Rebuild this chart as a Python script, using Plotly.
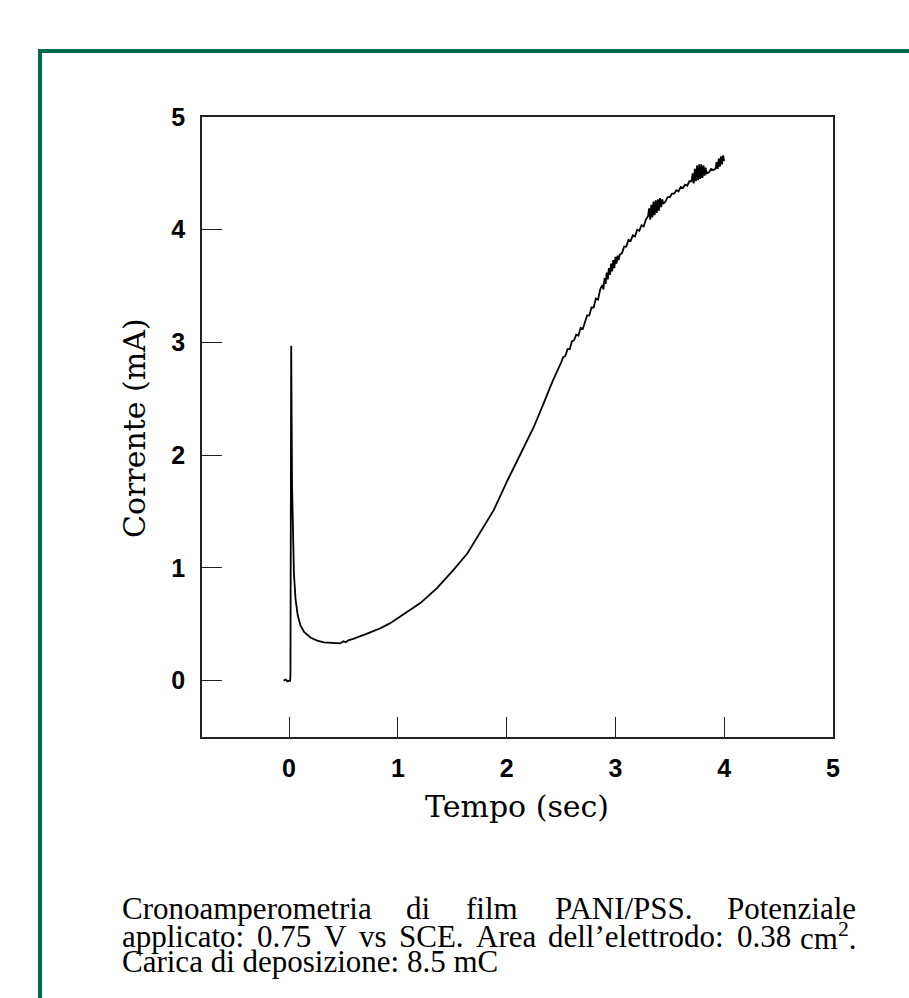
import plotly.graph_objects as go

# ---- data ----
tempo_sec = [
    -0.05, -0.03, -0.015, 0.0, 0.01, 0.013, 0.02, 0.024, 0.028, 0.035, 0.045,
    0.06, 0.08, 0.105, 0.14, 0.2, 0.26, 0.32, 0.38, 0.44, 0.47, 0.5, 0.52, 0.55,
    0.59, 0.7, 0.84, 0.93, 1.02, 1.1, 1.21, 1.36, 1.51, 1.64, 1.76, 1.88,
    2.01, 2.13, 2.25, 2.34, 2.42, 2.50,
    2.52, 2.54, 2.56, 2.58, 2.60, 2.62, 2.64, 2.66, 2.68, 2.70, 2.72, 2.74,
    2.76, 2.78, 2.80, 2.82, 2.84, 2.86,
    2.88, 2.89, 2.90, 2.91, 2.92, 2.93, 2.94, 2.95, 2.96, 2.97, 2.98, 2.99,
    3.00, 3.01, 3.02, 3.03, 3.04,
    3.06, 3.08, 3.10, 3.12, 3.14, 3.16, 3.18, 3.20, 3.22, 3.24, 3.26, 3.28,
    3.30, 3.31, 3.32, 3.33, 3.34, 3.35, 3.36, 3.37, 3.38, 3.39, 3.40, 3.41,
    3.42, 3.43, 3.44,
    3.46, 3.48, 3.50, 3.52, 3.54, 3.56, 3.58, 3.60, 3.62, 3.64, 3.66, 3.68,
    3.70, 3.71, 3.72, 3.73, 3.74, 3.75, 3.76, 3.77, 3.78, 3.79, 3.80, 3.81,
    3.82, 3.83, 3.84,
    3.86, 3.88, 3.90,
    3.92, 3.93, 3.94, 3.95, 3.96, 3.97, 3.98, 3.99, 4.00,
]
corrente_ma = [
    0.0, 0.01, -0.005, 0.0, 0.0, 0.05, 2.97, 2.30, 1.72, 1.25, 0.95,
    0.72, 0.58, 0.49, 0.43, 0.38, 0.355, 0.34, 0.337, 0.338, 0.33, 0.35, 0.34, 0.36,
    0.37, 0.41, 0.465, 0.51, 0.57, 0.62, 0.69, 0.82, 0.98, 1.13, 1.32, 1.51,
    1.78, 2.02, 2.25, 2.46, 2.65, 2.82,
    2.87, 2.88, 2.94, 2.94, 3.01, 3.02, 3.07, 3.06, 3.13, 3.12, 3.19, 3.24,
    3.24, 3.31, 3.31, 3.39, 3.38, 3.47,
    3.51, 3.47, 3.57, 3.52, 3.62, 3.56, 3.66, 3.60, 3.70, 3.63, 3.73, 3.66,
    3.76, 3.70, 3.77, 3.73, 3.78,
    3.79, 3.85, 3.85, 3.91, 3.90, 3.95, 3.94, 4.00, 3.99, 4.04, 4.03, 4.09,
    4.12, 4.19, 4.09, 4.22, 4.11, 4.25, 4.13, 4.26, 4.15, 4.27, 4.17, 4.28,
    4.20, 4.27, 4.23,
    4.25, 4.29, 4.29, 4.32, 4.32, 4.35, 4.34, 4.38, 4.37, 4.40, 4.39, 4.43,
    4.43, 4.50, 4.41, 4.54, 4.43, 4.57, 4.44, 4.58, 4.45, 4.58, 4.46, 4.57,
    4.48, 4.55, 4.50,
    4.51, 4.54, 4.53,
    4.54, 4.60, 4.54, 4.63, 4.56, 4.65, 4.58, 4.66, 4.61,
]
tick_vals = [0, 1, 2, 3, 4, 5]
tick_text = ["0", "1", "2", "3", "4", "5"]

x_title = "Tempo (sec)"
y_title = "Corrente (mA)"
caption_line1 = ["Cronoamperometria", "di", "film", "PANI/PSS.", "Potenziale"]
caption_line2 = ["applicato:", "0.75", "V", "vs", "SCE.", "Area",
                 "dell’elettrodo:", "0.38", "cm<sup>2</sup>."]
caption_line3 = "Carica di deposizione: 8.5 mC"

# ---- layout geometry (pixels) ----
W, H = 909, 998
L, R, T, B = 202, 833, 117, 737
PW, PH = R - L, B - T


def px(x):
    return (x - L) / PW


def py(y):
    return 1 - (y - T) / PH


fig = go.Figure()
fig.add_trace(go.Scatter(
    x=tempo_sec, y=corrente_ma, mode="lines",
    line=dict(color="black", width=1.8),
    showlegend=False, hoverinfo="skip",
))

axis_common = dict(
    showline=True, linecolor="#222222", linewidth=1.6, mirror=True,
    ticks="inside", ticklen=20, tickwidth=1.4, tickcolor="#222222",
    tickvals=tick_vals, ticktext=tick_text,
    showgrid=False, zeroline=False,
    tickfont=dict(family="Liberation Sans, Arial", size=25, color="black", weight="bold"),
)

fig.update_xaxes(range=[-0.8, 5.0], ticklabelstandoff=8, **axis_common)
fig.update_yaxes(range=[-0.5, 5.0], ticklabelstandoff=10, **axis_common)

annotations = []
title_font = dict(family="DejaVu Serif", size=30, color="black")
annotations.append(dict(
    text=x_title, x=px(517), y=py(807), xref="paper", yref="paper",
    xanchor="center", yanchor="middle", showarrow=False, font=title_font,
))
annotations.append(dict(
    text=y_title, x=px(134), y=py(428), xref="paper", yref="paper",
    xanchor="center", yanchor="middle", textangle=-90, showarrow=False, font=title_font,
))

cap_font = dict(family="Liberation Serif, Times New Roman", size=31, color="black")
# justified first line: word anchors
line1_pos = [(120, "left"), (418, "center"), (492, "center"), (624, "center"), (858, "right")]
for word, (xp, anc) in zip(caption_line1, line1_pos):
    annotations.append(dict(
        text=word, x=px(xp), y=py(908), xref="paper", yref="paper",
        xanchor=anc, yanchor="middle", showarrow=False, font=cap_font,
    ))
# justified second line
line2_pos = [(120, "left"), (255, "left"), (322, "left"), (357, "left"), (397, "left"),
             (474, "left"), (546, "left"), (735, "left"), (858, "right")]
for word, (xp, anc) in zip(caption_line2, line2_pos):
    annotations.append(dict(
        text=word, x=px(xp), y=py(936), xref="paper", yref="paper",
        xanchor=anc, yanchor="middle", showarrow=False, font=cap_font,
    ))
annotations.append(dict(
    text=caption_line3, x=px(120), y=py(962), xref="paper", yref="paper",
    xanchor="left", yanchor="middle", showarrow=False, font=cap_font,
))

frame_color = "#006a4e"
shapes = [
    dict(type="line", xref="paper", yref="paper",
         x0=px(40), x1=px(40), y0=py(49), y1=py(1010),
         line=dict(color=frame_color, width=4)),
    dict(type="line", xref="paper", yref="paper",
         x0=px(38), x1=px(920), y0=py(51), y1=py(51),
         line=dict(color=frame_color, width=4)),
]

fig.update_layout(
    width=W, height=H,
    margin=dict(l=L, r=W - R, t=T, b=H - B, pad=0),
    paper_bgcolor="white", plot_bgcolor="white",
    annotations=annotations, shapes=shapes,
    showlegend=False,
)

fig.write_html("out.html")
